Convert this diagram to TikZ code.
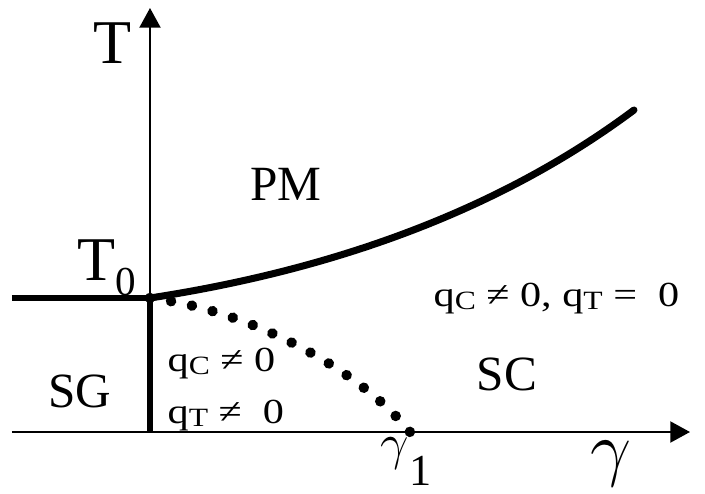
\documentclass[tikz,border=0pt]{standalone}
\usepackage{fontspec}
\usepackage{graphicx}
\setmainfont{Liberation Serif}
\usetikzlibrary{arrows.meta,decorations.markings}

\begin{document}
\begin{tikzpicture}[x=0.01cm, y=-0.01cm,
  axis/.style={line width=0.5pt, -{Triangle[length=5.6pt, width=6pt]}},
  phase/.style={line width=1.9pt},
  lbl/.style={inner sep=0, anchor=base},
  region/.style={lbl, font=\fontsize{14}{16}\selectfont},
  qlabel/.style={inner sep=0, anchor=base west, font=\fontsize{10}{12}\selectfont},
  dotline/.style={decorate, decoration={markings,
    mark=between positions 0 and 1 step 0.0714 with {\fill circle (1.5pt);}}}]
  \useasboundingbox (0,0) rectangle (705,493);

  \coordinate (O) at (150,432);
  \coordinate (Ttip) at (150,8);
  \coordinate (Gstart) at (12,432);
  \coordinate (Gtip) at (690,432);
  \coordinate (T0) at (150,298);
  \coordinate (Left) at (12,298);
  \coordinate (G1) at (410,432);
  \coordinate (Cend) at (634,110);

  \draw[axis] (Gstart) -- (Gtip);
  \draw[axis] (O) -- (Ttip);
  \draw[phase] (Left) -- (T0) -- (O);
  \draw[phase, line width=2pt, line cap=round] (T0) .. controls (300,275) and (480,225) .. (Cend);
  \path[dotline] (T0) .. controls (250,310) and (360,370) .. (G1);

  \node[lbl, font=\fontsize{17.7}{20}\selectfont] (Tlab) at (113,63) {T};
  \node[lbl, anchor=base west, font=\fontsize{17.7}{20}\selectfont] (T0lab) at (77,280)
    {T\raisebox{-4.3pt}{\fontsize{11.7}{12}\selectfont 0}};
  \node[region] (PM) at (286,200) {PM};
  \node[region] (SG) at (80,407) {SG};
  \node[region] (SC) at (507,390) {SC};

  \node[qlabel] (qCleft) at (167,371)
    {\scalebox{1.2}[1]{q\raisebox{-1pt}{\fontsize{7.5}{8}\selectfont C} ≠ 0}};
  \node[qlabel] (qTleft) at (167,423)
    {\scalebox{1.2}[1]{q\raisebox{-1pt}{\fontsize{7.5}{8}\selectfont T} ≠\ \ 0}};
  \node[qlabel] (qright) at (433,306)
    {\scalebox{1.2}[1]{q\raisebox{-1pt}{\fontsize{7.5}{8}\selectfont C} ≠ 0, q\raisebox{-1pt}{\fontsize{7.5}{8}\selectfont T} =\ \ 0}};

  \node[lbl, anchor=base west, font=\fontsize{14.5}{16}\selectfont] (gam1) at (380,459)
    {$\gamma$\raisebox{-7.4pt}{\fontsize{12.6}{14}\selectfont 1}};
  \node[lbl, font=\fontsize{19.5}{20}\selectfont] (gam) at (611,472) {$\gamma$};
\end{tikzpicture}
\end{document}
